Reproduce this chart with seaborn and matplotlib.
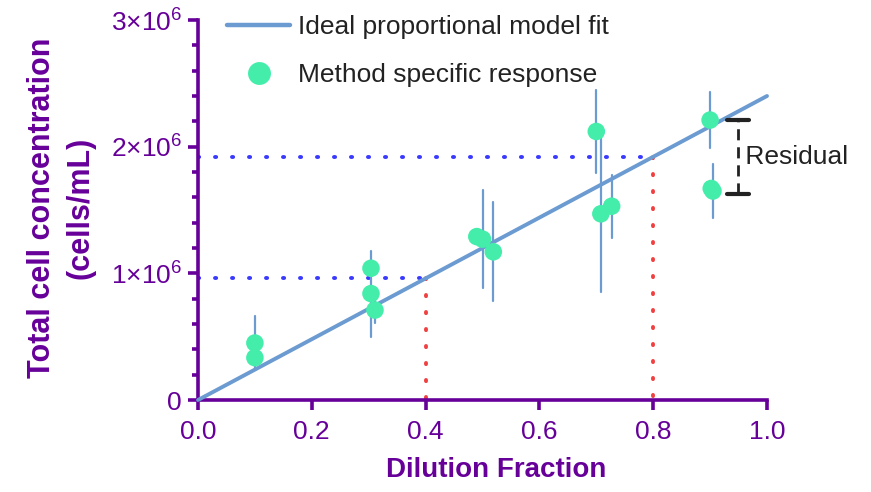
import matplotlib
matplotlib.use("Agg")
import matplotlib.pyplot as plt
import matplotlib.ticker as mticker
from matplotlib.lines import Line2D
import numpy as np
import pandas as pd
import seaborn as sns

# ---- data ----
dilution = [0.10, 0.10, 0.304, 0.304, 0.311, 0.49, 0.50, 0.519, 0.70, 0.708, 0.727, 0.90, 0.902, 0.905]
concentration = [0.45e6, 0.334e6, 1.04e6, 0.84e6, 0.71e6, 1.29e6, 1.27e6, 1.17e6, 2.12e6, 1.47e6, 1.53e6, 2.21e6, 1.67e6, 1.65e6]
error = [0.21e6, 0.0, 0.0, 0.34e6, 0.10e6, 0.0, 0.385e6, 0.39e6, 0.33e6, 0.62e6, 0.25e6, 0.22e6, 0.0, 0.21e6]
fit_x = [0.0, 1.0]
slope = 2.4e6
guide_x = [0.4, 0.8]
residual_x = 0.949
residual_top = 2.21e6
residual_bottom = 1.63e6
xticks = [0.0, 0.2, 0.4, 0.6, 0.8, 1.0]
yticks = [0, 1e6, 2e6, 3e6]
ytick_labels = ["0", "1\u00d710$^{6}$", "2\u00d710$^{6}$", "3\u00d710$^{6}$"]

sns.set_style("ticks")
plt.rcParams['font.family'] = ['Liberation Sans', 'DejaVu Sans']
plt.rcParams['mathtext.fontset'] = 'custom'
plt.rcParams['mathtext.rm'] = 'Liberation Sans'
plt.rcParams['mathtext.it'] = 'Liberation Sans'
plt.rcParams['mathtext.bf'] = 'Liberation Sans:bold'
plt.rcParams['mathtext.default'] = 'rm'

PURPLE = "#660099"
LINE = "#6b9bd1"
MARK = "#44eeaa"
W, H = 871, 492

fig = plt.figure(figsize=(W/100, H/100), dpi=100)
ax = fig.add_axes([198/W, 1-400/H, (767-198)/W, (400-20)/H])

df = pd.DataFrame({"x": dilution, "y": concentration, "err": error})
fit_df = pd.DataFrame({"x": fit_x, "y": [slope*v for v in fit_x]})

# guide lines (dotted)
dot = (0, (0.3, 4.07))
for gx in guide_x:
    gy = slope*gx
    ax.plot([0, gx], [gy, gy], color="#3a3aff", linestyle=dot, lw=2.8,
            dash_capstyle="round", zorder=1)
    ax.plot([gx, gx], [gy, 0], color="#f04040", linestyle=dot, lw=2.8,
            dash_capstyle="round", zorder=1)

# error bars
for xv, yv, ev in zip(dilution, concentration, error):
    if ev > 0:
        ax.plot([xv, xv], [yv-ev, yv+ev], color=LINE, lw=1.6, zorder=2)

sns.lineplot(data=fit_df, x="x", y="y", ax=ax, color=LINE, lw=2.8, zorder=3)
ax.lines[-1].set_clip_on(False)
sns.scatterplot(data=df, x="x", y="y", ax=ax, color=MARK, s=160, edgecolor="none", zorder=4)

# residual bracket
ax.plot([residual_x, residual_x], [residual_bottom, residual_top], color="#222222",
        lw=2, linestyle=(0, (4, 2.5)), zorder=3)
for yy in (residual_top, residual_bottom):
    ax.plot([residual_x-0.019, residual_x+0.019], [yy, yy], color="#222222", lw=3, zorder=3)
ax.text(residual_x+0.0, (residual_top+residual_bottom)/2, " Residual", fontsize=19,
        color="#222222", va="center", ha="left")

ax.set_xlim(0, 1.0)
ax.set_ylim(0, 3e6)
ax.set_xticks(xticks)
ax.set_xticklabels([f"{v:.1f}" for v in xticks])
ax.set_yticks(yticks)
ax.set_yticklabels(ytick_labels)
ax.yaxis.set_minor_locator(mticker.MultipleLocator(2e5))

for side in ("top", "right"):
    ax.spines[side].set_visible(False)
for side in ("left", "bottom"):
    ax.spines[side].set_color(PURPLE)
    ax.spines[side].set_linewidth(2.6)

ax.tick_params(axis="x", which="major", colors=PURPLE, width=2.6, length=7.5,
               labelsize=19, pad=7)
ax.tick_params(axis="y", which="major", colors=PURPLE, width=2.6, length=7.5,
               labelsize=19, pad=4)
ax.tick_params(axis="y", which="minor", colors=PURPLE, width=2.6, length=4.5)
for lab in ax.get_xticklabels() + ax.get_yticklabels():
    lab.set_color(PURPLE)

ax.set_xlabel("Dilution Fraction", fontsize=20, fontweight="bold", color=PURPLE)
ax.xaxis.label.set_verticalalignment("center")
ax.xaxis.set_label_coords((496.5-198)/569, (400-470)/380)
ax.set_ylabel("Total cell concentration\n(cells/mL)", fontsize=22, fontweight="bold",
              color=PURPLE, linespacing=1.35)
ax.yaxis.label.set_verticalalignment("center")
ax.yaxis.set_label_coords((61-198)/569, (400-207.5)/380)

handles = [Line2D([0], [0], color=LINE, lw=3.2),
           Line2D([0], [0], marker="o", color="none", markerfacecolor=MARK,
                  markeredgecolor="none", markersize=16.5)]
leg = fig.legend(handles, ["Ideal proportional model fit", "Method specific response"],
                 loc="upper left", bbox_to_anchor=(227/W, 1-15/H), frameon=False,
                 fontsize=19, handlelength=2.4, labelspacing=0.9, handletextpad=0.3,
                 borderpad=0, borderaxespad=0)
for t in leg.get_texts():
    t.set_color("#222222")

fig.savefig("out.png", dpi=100)
